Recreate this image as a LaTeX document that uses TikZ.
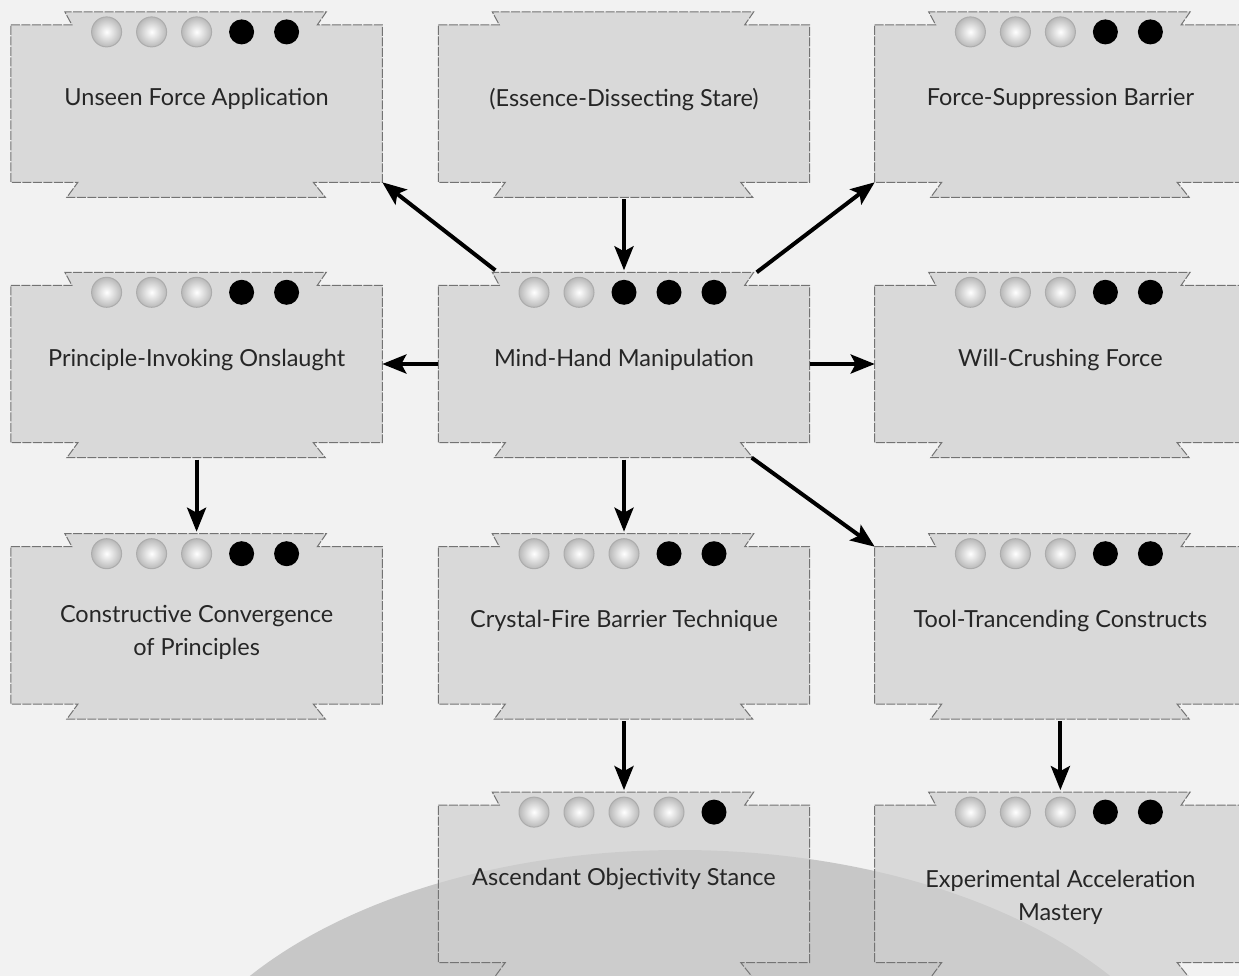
\documentclass[tikz,border=0pt]{standalone}
\usepackage{fontspec}
\setmainfont{Lato}
\usepackage{tikz}
\usetikzlibrary{positioning,arrows.meta}
\pgfdeclarelayer{backdrop}
\pgfdeclarelayer{cards}
\pgfsetlayers{backdrop,cards,main}

\newcommand{\pips}[2]{% card name, silver count
  \foreach \k in {1,...,5} {
    \ifnum\k>#2
      \fill[black] ([xshift={(\k-3)*45pt}, yshift=-7pt]#1.north) circle (12.5pt);
    \else
      \shadedraw[inner color=white, outer color=gray!55, draw=gray!65, line width=1pt] ([xshift={(\k-3)*45pt}, yshift=-7pt]#1.north) circle (15pt);
    \fi}}

\begin{document}
\begin{tikzpicture}[x=1pt, y=1pt, font=\fontsize{23.5}{33}\selectfont,
  card/.style={minimum width=371pt, minimum height=157pt, inner sep=0pt, align=center, text=black!85, text depth=13pt},
  rim/.style={draw=black!55, line width=1pt, dash pattern=on 9pt off 1.5pt, fill=black!19, fill opacity=0.7},
  arr/.style={-{Stealth[length=24pt, width=19pt, inset=5pt]}, line width=4pt}]
\useasboundingbox (0,0) rectangle (1239,-976);
\begin{pgfonlayer}{backdrop}
\fill[black!5] (0,0) rectangle (1239,-976);
\fill[black!22] (680,-1150) ellipse [x radius=528, y radius=300];
\end{pgfonlayer}
\node[card] (mind) at (624,-364) {Mind-Hand Manipulation};
\node[card, above=103pt of mind] (essence) {(Essence-Dissecting Stare)};
\node[card, left=56pt of essence] (unseen) {Unseen Force Application};
\node[card, right=65pt of essence] (barrier) {Force-Suppression Barrier};
\node[card, left=56pt of mind] (onslaught) {Principle-Invoking Onslaught};
\node[card, right=65pt of mind] (crushing) {Will-Crushing Force};
\node[card, below=104pt of mind] (crystal) {Crystal-Fire Barrier Technique};
\node[card, left=56pt of crystal, text height=74pt] (convergence) {Constructive Convergence\\of Principles};
\node[card, right=65pt of crystal] (constructs) {Tool-Trancending Constructs};
\node[card, below=101pt of crystal] (stance) {Ascendant Objectivity Stance};
\node[card, right=65pt of stance, text height=86pt] (mastery) {Experimental Acceleration\\Mastery};
% card outlines with tabs
\begin{pgfonlayer}{cards}
\foreach \n in {mind,essence,unseen,barrier,onslaught,crushing,crystal,convergence,constructs,stance,mastery}
  \draw[rim] (\n.north west) -- ++(61,0) -- ++(-7,13) -- ([xshift=-56pt,yshift=13pt]\n.north east) -- ++(-9,-13)
    -- (\n.north east) -- (\n.south east) -- ++(-69,0) -- ++(12,-15) -- ([xshift=56pt,yshift=-15pt]\n.south west)
    -- ++(11,15) -- (\n.south west) -- cycle;
\end{pgfonlayer}
\pips{unseen}{3} \pips{barrier}{3}
\pips{onslaught}{3} \pips{mind}{2} \pips{crushing}{3}
\pips{convergence}{3} \pips{crystal}{3} \pips{constructs}{3}
\pips{stance}{4} \pips{mastery}{3}
\draw[arr] ([yshift=-17pt]essence.south) -- ([yshift=15pt]mind.north);
\draw[arr] ([xshift=57pt,yshift=15pt]mind.north west) -- (unseen.south east);
\draw[arr] ([xshift=-53pt,yshift=13pt]mind.north east) -- (barrier.south west);
\draw[arr] (mind.west) -- (onslaught.east);
\draw[arr] (mind.east) -- (crushing.west);
\draw[arr] ([xshift=-58pt,yshift=-15pt]mind.south east) -- (constructs.north west);
\draw[arr] ([yshift=-17pt]mind.south) -- ([yshift=15pt]crystal.north);
\draw[arr] ([yshift=-17pt]onslaught.south) -- ([yshift=15pt]convergence.north);
\draw[arr] ([yshift=-17pt]crystal.south) -- ([yshift=15pt]stance.north);
\draw[arr] ([yshift=-17pt]constructs.south) -- ([yshift=15pt]mastery.north);
\end{tikzpicture}
\end{document}
